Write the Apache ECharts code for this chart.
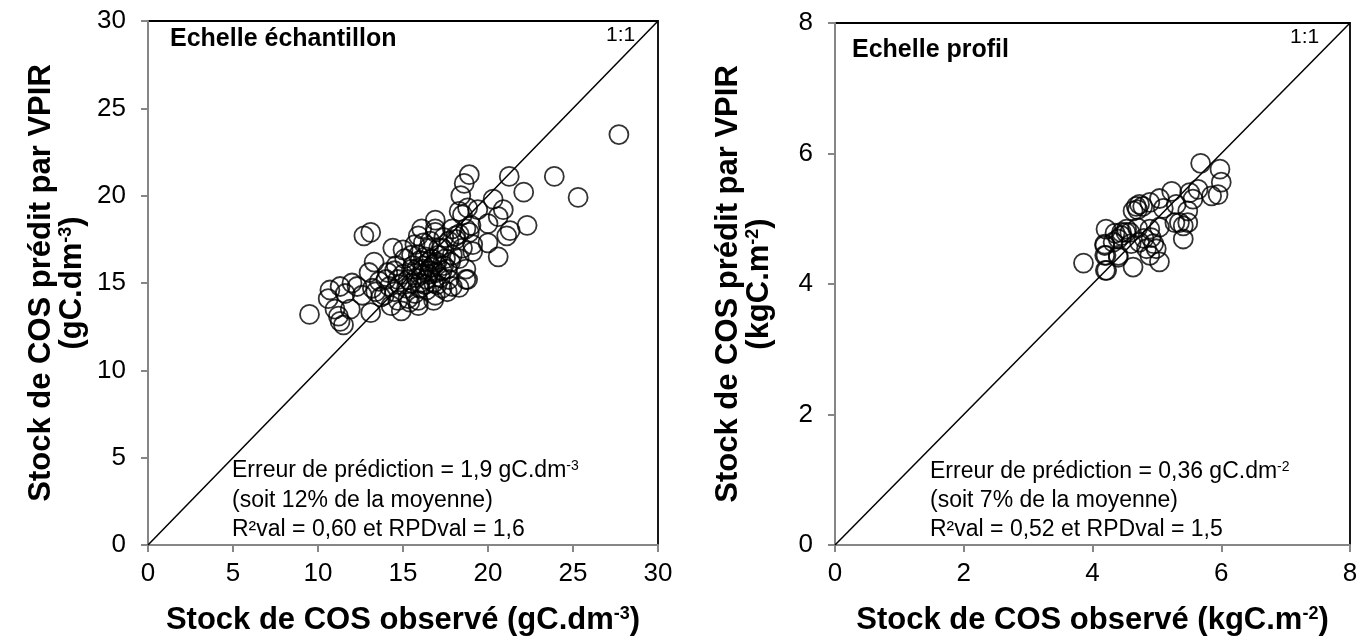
<!DOCTYPE html>
<html><head><meta charset="utf-8">
<script src="https://cdn.jsdelivr.net/npm/echarts@6/dist/echarts.min.js"></script>
<style>html,body{margin:0;padding:0;background:#fff}#c{width:1366px;height:641px}</style>
</head><body><div id="c"></div>
<script>
// Left panel: sample scale (observed, predicted) gC.dm-3
const sampleObserved = [9.5,10.7,11.3,10.6,11.6,11.0,11.2,11.5,11.9,11.3,12.6,12.7,13.1,13.1,13.2,13.0,13.3,13.6,13.9,14.3,14.4,14.6,14.1,14.9,15.3,15.5,15.7,15.9,16.3,16.5,16.9,17.3,17.7,18.1,18.7,19.1,18.9,17.3,16.9,15.9,14.7,15.1,15.9,16.1,16.5,15.3,23.9,25.3,21.25,22.1,22.3,27.7,18.9,18.6,18.4,20.3,20.9,20.6,21.3,21.1,20.0,20.0,20.6,19.4,18.8,18.5,18.3,19.0,18.7,18.3,17.9,16.9,16.9,16.1,19.1,18.5,18.8,18.1,17.7,17.9,18.3,17.1,18.7,14.5,14.8,15.0,15.2,15.5,15.6,15.8,16.0,16.0,16.2,16.3,16.4,16.6,16.7,16.8,16.9,17.0,17.1,17.2,17.4,17.5,17.6,17.8,17.0,16.4,15.7,15.4,14.2,14.0,13.7,13.4,12.3,12.0,16.2,15.5,17.4,16.6,17.9,17.6,16.8,15.9,14.7,14.5,15.0,16.0,16.5,17.0,16.2,15.8,16.7,17.3,18.3];
const samplePredicted = [13.2,14.6,14.8,14.1,14.4,13.5,13.1,12.6,13.5,12.8,14.3,17.7,17.9,13.3,14.7,15.6,16.2,15.1,14.3,13.7,17.0,16.0,15.6,13.4,14.1,15.8,17.2,17.7,14.9,16.2,17.9,17.0,15.2,17.7,15.2,17.2,17.9,14.7,14.3,13.7,15.2,16.4,16.6,15.5,17.0,15.2,21.1,19.9,21.1,20.2,18.3,23.5,21.2,20.7,20.0,19.8,19.2,18.8,18.0,17.7,18.4,17.3,16.5,19.2,19.3,18.9,19.1,18.3,18.1,17.8,18.1,18.6,18.1,18.1,16.8,17.0,15.2,17.5,17.4,16.6,16.4,17.0,15.8,14.5,14.9,15.5,14.7,15.0,16.0,15.3,16.3,14.7,15.8,16.5,15.2,15.7,16.4,15.0,16.1,15.6,16.6,15.3,16.0,16.4,15.8,16.2,14.9,14.6,14.4,13.9,14.8,15.2,14.2,14.5,14.8,15.0,17.3,16.6,17.6,17.4,14.8,14.5,14.0,14.0,14.0,15.7,16.9,15.0,15.5,16.2,16.0,15.8,15.9,15.7,14.75];
// Right panel: profile scale (observed, predicted) kgC.m-2
const profileObserved = [3.86,4.21,4.19,4.21,4.2,4.40,4.45,4.52,4.63,4.68,4.63,4.32,5.68,5.98,6.0,5.95,5.85,5.64,5.51,5.56,5.23,5.04,4.89,4.78,4.70,5.30,5.48,5.48,5.35,5.28,5.41,5.41,5.04,4.89,4.91,4.99,5.04,4.89,4.84,4.73,4.58,4.53,4.45,4.40,4.19,4.40,4.19,4.22,4.73,4.60,4.95,4.80,4.70,5.10,4.35];
const profilePredicted = [4.32,4.84,4.61,4.44,4.21,4.41,4.74,4.79,4.26,5.19,5.12,4.64,5.85,5.76,5.56,5.37,5.35,5.45,5.40,5.30,5.42,5.31,5.25,5.19,5.14,5.22,5.12,4.94,4.94,4.94,4.89,4.69,4.87,4.84,4.71,4.54,4.34,4.44,4.54,4.64,4.79,4.84,4.79,4.69,4.59,4.44,4.44,4.21,5.22,4.62,4.62,4.70,4.86,5.16,4.78];
// 1:1 lines
const diagSample = [0, 30];
const diagProfile = [0, 8];
const sampleTicks = [0,5,10,15,20,25,30];
const profileTicks = [0,2,4,6,8];

const FONT = '"Liberation Sans", Arial, sans-serif';
const zip = (a,b) => a.map((v,i)=>[v,b[i]]);
const greyAxis = '#868686';
const supRich = {sup:{fontFamily:FONT, fontSize:18, fontWeight:'bold', color:'#000', verticalAlign:'top'}};

function xAxis(gi, max, interval, name){
  return {gridIndex: gi, type:'value', min:0, max:max, interval:interval,
    axisLine:{show:true, lineStyle:{color:greyAxis, width:2}},
    axisTick:{show:true, inside:false, length:7, lineStyle:{color:greyAxis, width:2}},
    splitLine:{show:false},
    axisLabel:{color:'#000', fontFamily:FONT, fontSize:26, margin:16},
    name:name, nameLocation:'middle', nameGap:60,
    nameTextStyle:{color:'#000', fontFamily:FONT, fontSize:31, fontWeight:'bold', rich:supRich}
  };
}
function yAxis(gi, max, interval, name){
  return {gridIndex: gi, type:'value', min:0, max:max, interval:interval,
    axisLine:{show:true, lineStyle:{color:greyAxis, width:2}},
    axisTick:{show:true, inside:false, length:7, lineStyle:{color:greyAxis, width:2}},
    splitLine:{show:false},
    axisLabel:{color:'#000', fontFamily:FONT, fontSize:26, margin:22},
    name:name, nameLocation:'middle', nameGap:60,
    nameTextStyle:{color:'#000', fontFamily:FONT, fontSize:31, fontWeight:'bold', lineHeight:31, rich:supRich}
  };
}
const scatterStyle = {color:'rgba(0,0,0,0)', borderColor:'#000', borderWidth:1.8};

const chart = echarts.init(document.getElementById('c'), null, {renderer:'canvas'});
function annot(x, y, text, size, bold){
  return {type:'text', left:x, top:y, z:100, style:{text:text, fill:'#000',
    font:(bold?'bold ':'') + size + 'px ' + FONT,
    rich:{sup:{fontFamily:FONT, fontSize:14, fill:'#000', verticalAlign:'top'}}}};
}
chart.setOption({
  animation:false,
  grid:[
    {left:148, right:1366-658, top:21, bottom:641-548, show:true, borderColor:'#000', borderWidth:1.8, backgroundColor:'transparent'},
    {left:835, right:16, top:23, bottom:641-549, show:true, borderColor:'#000', borderWidth:1.8, backgroundColor:'transparent'}
  ],
  xAxis:[
    xAxis(0, 30, 5, 'Stock de COS observé (gC.dm{sup|-3})'),
    xAxis(1, 8, 2, 'Stock de COS observé (kgC.m{sup|-2})')
  ],
  yAxis:[
    yAxis(0, 30, 5, 'Stock de COS prédit par VPIR\n(gC.dm{sup|-3})'),
    yAxis(1, 8, 2, 'Stock de COS prédit par VPIR\n(kgC.m{sup|-2})')
  ],
  series:[
    {type:'line', xAxisIndex:0, yAxisIndex:0, data:zip(diagSample, diagSample), symbol:'none', lineStyle:{color:'#000', width:1.5}, silent:true},
    {type:'line', xAxisIndex:1, yAxisIndex:1, data:zip(diagProfile, diagProfile), symbol:'none', lineStyle:{color:'#000', width:1.5}, silent:true},
    {type:'scatter', xAxisIndex:0, yAxisIndex:0, data:zip(sampleObserved, samplePredicted), symbol:'circle', symbolSize:19, itemStyle:scatterStyle},
    {type:'scatter', xAxisIndex:1, yAxisIndex:1, data:zip(profileObserved, profilePredicted), symbol:'circle', symbolSize:19, itemStyle:scatterStyle}
  ],
  graphic:[
    annot(170, 27, 'Echelle échantillon', 25, true),
    annot(606, 25, '1:1', 21, false),
    annot(232, 459, 'Erreur de prédiction = 1,9 gC.dm{sup|-3}', 23, false),
    annot(232, 489, '(soit 12% de la moyenne)', 23, false),
    annot(232, 518, 'R²val = 0,60 et RPDval = 1,6', 23, false),
    annot(852, 38, 'Echelle profil', 25, true),
    annot(1290, 27, '1:1', 21, false),
    annot(930, 460, 'Erreur de prédiction = 0,36 gC.dm{sup|-2}', 23, false),
    annot(930, 489, '(soit 7% de la moyenne)', 23, false),
    annot(930, 518, 'R²val = 0,52 et RPDval = 1,5', 23, false)
  ]
});
</script></body></html>
